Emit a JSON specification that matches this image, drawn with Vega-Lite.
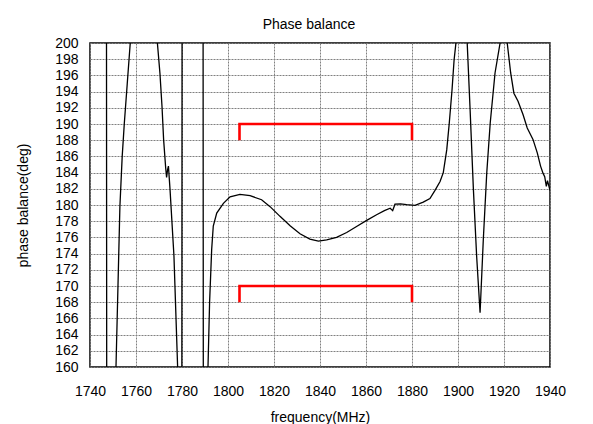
{
  "$schema": "https://vega.github.io/schema/vega-lite/v6.json",
  "width": 460,
  "height": 324,
  "autosize": {"type": "none"},
  "padding": {"left": 90, "top": 43, "right": 43, "bottom": 57},
  "background": "white",
  "title": {
    "text": "Phase balance",
    "font": "Liberation Sans",
    "fontSize": 14,
    "fontWeight": "normal",
    "color": "black",
    "baseline": "alphabetic",
    "offset": 16,
    "dx": -11,
    "dy": 23
  },
  "config": {
    "view": {"stroke": "black", "strokeWidth": 1.5},
    "axis": {
      "grid": true,
      "gridColor": "#808080",
      "gridDash": [2, 1],
      "gridWidth": 1,
      "ticks": false,
      "domain": false,
      "labelOverlap": false,
      "labelFlush": false,
      "labelFont": "Liberation Sans",
      "labelFontSize": 14,
      "labelColor": "black",
      "titleFont": "Liberation Sans",
      "titleFontSize": 14,
      "titleFontWeight": "normal",
      "titleColor": "black"
    }
  },
  "datasets": {
    "phase": [
      {"f": 1740, "v": 235},
      {"f": 1747.1, "v": 235},
      {"f": 1747.3, "v": 140},
      {"f": 1751.3, "v": 160},
      {"f": 1752.3, "v": 171.6},
      {"f": 1753.0, "v": 179.8},
      {"f": 1754.0, "v": 186},
      {"f": 1754.9, "v": 190},
      {"f": 1756.2, "v": 195},
      {"f": 1757.5, "v": 200},
      {"f": 1763, "v": 215},
      {"f": 1769.3, "v": 200},
      {"f": 1770.4, "v": 196.3},
      {"f": 1771.3, "v": 192.2},
      {"f": 1772.0, "v": 188.1},
      {"f": 1772.9, "v": 184.6},
      {"f": 1773.3, "v": 183.4},
      {"f": 1773.7, "v": 184.3},
      {"f": 1774.1, "v": 184.8},
      {"f": 1774.8, "v": 181.9},
      {"f": 1776.5, "v": 173.7},
      {"f": 1778.1, "v": 160},
      {"f": 1779.9, "v": 145},
      {"f": 1780.1, "v": 235},
      {"f": 1789.1, "v": 235},
      {"f": 1789.3, "v": 140},
      {"f": 1791.3, "v": 160},
      {"f": 1792.0, "v": 168},
      {"f": 1792.9, "v": 174.5},
      {"f": 1793.6, "v": 177.4},
      {"f": 1795.1, "v": 179.0},
      {"f": 1798.0, "v": 180.2},
      {"f": 1800.9, "v": 181.0},
      {"f": 1805.2, "v": 181.3},
      {"f": 1809.6, "v": 181.15},
      {"f": 1814.6, "v": 180.65},
      {"f": 1818.3, "v": 179.8},
      {"f": 1822.6, "v": 178.6},
      {"f": 1827.0, "v": 177.45},
      {"f": 1831.3, "v": 176.45},
      {"f": 1835.6, "v": 175.8},
      {"f": 1839.3, "v": 175.55},
      {"f": 1842.9, "v": 175.7},
      {"f": 1847.2, "v": 176.0},
      {"f": 1851.6, "v": 176.6},
      {"f": 1855.9, "v": 177.35},
      {"f": 1860.3, "v": 178.1},
      {"f": 1864.6, "v": 178.8},
      {"f": 1868.0, "v": 179.3},
      {"f": 1870.5, "v": 179.6},
      {"f": 1871.6, "v": 179.3},
      {"f": 1872.6, "v": 180.1},
      {"f": 1875.0, "v": 180.15},
      {"f": 1877.7, "v": 180.05},
      {"f": 1881.3, "v": 179.95},
      {"f": 1884.9, "v": 180.35},
      {"f": 1887.8, "v": 180.8},
      {"f": 1890.0, "v": 181.8},
      {"f": 1892.2, "v": 182.9},
      {"f": 1893.6, "v": 184.0},
      {"f": 1895.1, "v": 186.8},
      {"f": 1896.2, "v": 190.1},
      {"f": 1897.4, "v": 194.2},
      {"f": 1898.3, "v": 197.9},
      {"f": 1899.1, "v": 200},
      {"f": 1901.5, "v": 215},
      {"f": 1904.0, "v": 200},
      {"f": 1905.2, "v": 192.2},
      {"f": 1906.7, "v": 181.9},
      {"f": 1908.1, "v": 173.7},
      {"f": 1909.6, "v": 166.7},
      {"f": 1911.0, "v": 175.7},
      {"f": 1912.5, "v": 183.95},
      {"f": 1914.0, "v": 190.1},
      {"f": 1916.1, "v": 196.3},
      {"f": 1918.3, "v": 200},
      {"f": 1920.0, "v": 210},
      {"f": 1921.4, "v": 200},
      {"f": 1922.9, "v": 196.3},
      {"f": 1924.3, "v": 193.8},
      {"f": 1926.1, "v": 192.8},
      {"f": 1928.3, "v": 191.15},
      {"f": 1930.1, "v": 189.5},
      {"f": 1932.6, "v": 188.1},
      {"f": 1934.5, "v": 186.4},
      {"f": 1935.9, "v": 184.8},
      {"f": 1937.0, "v": 183.9},
      {"f": 1937.7, "v": 183.5},
      {"f": 1938.4, "v": 182.3},
      {"f": 1938.9, "v": 183.0},
      {"f": 1940.0, "v": 181.8}
    ],
    "spec": [
      {"seg": "upper", "i": 0, "f": 1805, "v": 188},
      {"seg": "upper", "i": 1, "f": 1805, "v": 190},
      {"seg": "upper", "i": 2, "f": 1880, "v": 190},
      {"seg": "upper", "i": 3, "f": 1880, "v": 188},
      {"seg": "lower", "i": 0, "f": 1805, "v": 168},
      {"seg": "lower", "i": 1, "f": 1805, "v": 170},
      {"seg": "lower", "i": 2, "f": 1880, "v": 170},
      {"seg": "lower", "i": 3, "f": 1880, "v": 168}
    ]
  },
  "encoding": {
    "x": {
      "field": "f",
      "type": "quantitative",
      "scale": {"domain": [1740, 1940], "nice": false, "zero": false},
      "axis": {
        "values": [1740, 1760, 1780, 1800, 1820, 1840, 1860, 1880, 1900, 1920, 1940],
        "format": "d",
        "labelPadding": 17,
        "title": "frequency(MHz)",
        "titlePadding": 12
      }
    },
    "y": {
      "field": "v",
      "type": "quantitative",
      "scale": {"domain": [160, 200], "nice": false, "zero": false},
      "axis": {
        "values": [160, 162, 164, 166, 168, 170, 172, 174, 176, 178, 180, 182, 184, 186, 188, 190, 192, 194, 196, 198, 200],
        "format": "d",
        "labelPadding": 12,
        "title": "phase balance(deg)",
        "titlePadding": 24
      }
    }
  },
  "layer": [
    {
      "data": {"name": "phase"},
      "mark": {"type": "line", "color": "black", "strokeWidth": 1.3, "clip": true}
    },
    {
      "data": {"name": "spec"},
      "mark": {"type": "line", "color": "#ff0000", "strokeWidth": 2.6, "strokeCap": "butt", "strokeJoin": "miter", "clip": true},
      "encoding": {
        "detail": {"field": "seg"},
        "order": {"field": "i", "type": "quantitative"}
      }
    }
  ]
}
